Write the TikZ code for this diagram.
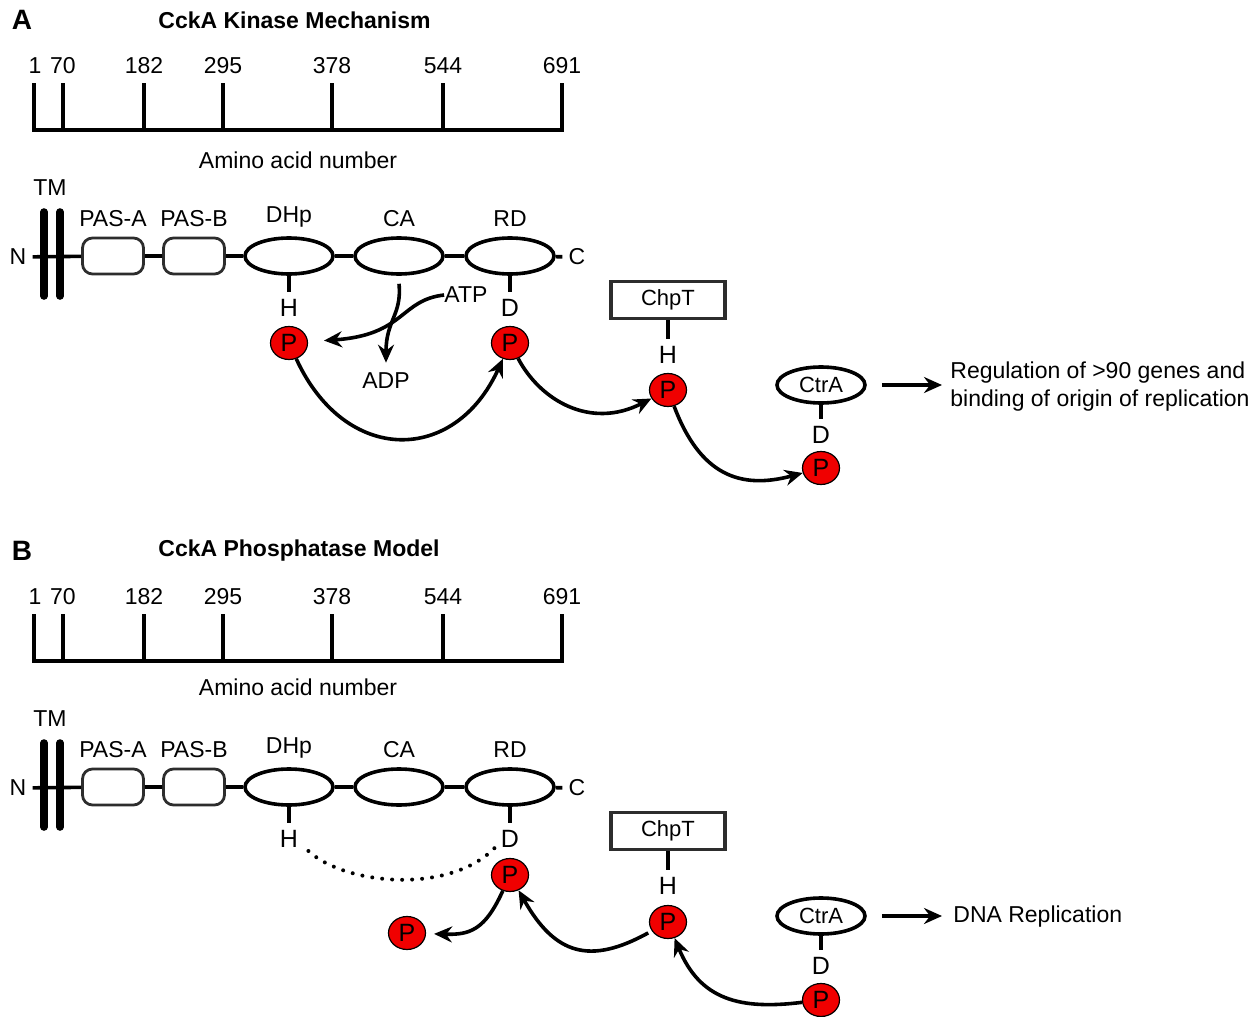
\documentclass[tikz,border=0pt]{standalone}
\usepackage{fontspec}
\setmainfont{Liberation Sans}
\usetikzlibrary{arrows.meta,shapes.geometric}
\definecolor{pred}{RGB}{240,0,0}
\definecolor{dgray}{RGB}{45,45,45}
\newcommand\txtf{\fontsize{11.5}{14}\selectfont}
\newcommand\resf{\fontsize{12.5}{14}\selectfont}
\newcommand\protf{\fontsize{11}{13}\selectfont}
\tikzset{
 lbl/.style={inner sep=0pt, font=\txtf},
 ttl/.style={inner sep=0pt, font=\txtf\bfseries},
 res/.style={inner xsep=0pt, inner ysep=3.5pt, font=\resf},
 term/.style={inner sep=3pt, font=\txtf},
 dom/.style={ellipse, draw, line width=1.8pt, fill=white, minimum width=44pt, minimum height=18pt, inner sep=0pt},
 pas/.style={rectangle, rounded corners=5pt, draw=dgray, line width=1.4pt, fill=white, minimum width=30.5pt, minimum height=18pt, inner sep=0pt},
 phos/.style={ellipse, draw, line width=0.6pt, fill=pred, minimum width=18.5pt, minimum height=16.5pt, inner sep=0pt, font=\resf},
 prot/.style={rectangle, draw=dgray, line width=1.7pt, minimum width=57pt, minimum height=18.5pt, inner sep=0pt, font=\protf},
 ctra/.style={ellipse, draw, line width=1.8pt, minimum width=44pt, minimum height=18pt, inner sep=0pt, font=\protf},
 bond/.style={line width=1.8pt},
 arr/.style={line width=1.8pt, -{Stealth[length=9pt, width=8pt, inset=3pt]}},
 tmbar/.style={line width=3.8pt, line cap=round},
 dotline/.style={line width=2pt, dash pattern=on 0pt off 5pt, line cap=round}
}
% common part of a panel
\newcommand\ckpanel[3]{%
 \node[inner sep=0pt, font=\fontsize{14}{16}\selectfont\bfseries] (letter) at (22,20) {#1};
 \node[ttl, anchor=west] (title) at (158,20) {#2};
 % ruler
 \draw[bond] (34,83) -- (34,130) -- (562,130) -- (562,83);
 \foreach \x in {63,144,223,332,443} \draw[bond] (\x,83) -- (\x,130);
 \foreach \v/\x in {1/35,70/63,182/144,295/223,378/332,544/443,691/562}
   \node[lbl] (t\v) at (\x,66) {\v};
 \node[lbl] (aan) at (298,#3) {Amino acid number};
 % domain architecture
 \node[lbl] (tm) at (50,188) {TM};
 \node[term] (N) at (18,257) {N};
 \node[term] (C) at (577,257) {C};
 \node[pas] (pasA) at (113,256) {};
 \node[pas] (pasB) at (194,256) {};
 \node[dom] (dhp) at (289,256) {};
 \node[dom] (ca) at (399,256) {};
 \node[dom] (rd) at (510,256) {};
 \node[lbl] (pasAl) at (113,219) {PAS-A};
 \node[lbl] (pasBl) at (194,219) {PAS-B};
 \node[lbl] (dhpl) at (289,217) {DHp};
 \node[lbl] (cal) at (399,219) {CA};
 \node[lbl] (rdl) at (510,219) {RD};
 \draw[bond] (N) -- (pasA) -- (pasB) -- (dhp) -- (ca) -- (rd) -- (C);
 \draw[tmbar] (44,212) -- (44,296);
 \draw[tmbar] (60,212) -- (60,296);
 \node[res] (hl) at (289,308) {H};
 \node[res] (dl) at (510,308) {D};
 \draw[bond] (dhp.south) -- (hl);
 \draw[bond] (rd.south) -- (dl);
 % ChpT
 \node[prot] (chpt) at (668,300) {ChpT};
 \node[res] (chh) at (668,355) {H};
 \draw[bond] (chpt.south) -- (chh);
 % CtrA
 \node[ctra] (ctra) at (821,385) {CtrA};
 \node[res] (ctd) at (821,435) {D};
 \draw[bond] (ctra.south) -- (ctd);
}
\begin{document}
\begin{tikzpicture}[x=0.5pt, y=-0.5pt]
\useasboundingbox (0,0) rectangle (1260,1017);
% ---------------- Panel A ----------------
\begin{scope}[name prefix=a-]
 \ckpanel{A}{CckA Kinase Mechanism}{160}
 \node[phos] (hP) at (289,343) {P};
 \node[phos] (dP) at (510,343) {P};
 \node[phos] (chP) at (668,390) {P};
 \node[phos] (ctP) at (821,468) {P};
 \node[lbl] (atp) at (466,295) {ATP};
 \node[lbl] (adp) at (386,381) {ADP};
 \draw[arr] ([shift={(0,8)}]ca.south) .. controls (402,315) and (386,320) .. ([shift={(0,-10)}]adp.north);
 \draw[arr, shorten >=8pt] (atp.west) .. controls (400,300) and (405,335) .. (hP);
 \draw[arr] (hP) .. controls (345,465) and (455,465) .. (dP);
 \draw[arr] (dP) .. controls (540,400) and (590,430) .. (chP);
 \draw[arr] (chP) .. controls (700,475) and (740,490) .. (ctP);
 \node[lbl, anchor=west, align=left] (reg) at (950,387) {Regulation of >90 genes and\\binding of origin of replication};
 \draw[arr] ([xshift=7.5pt]ctra.east) -- ([xshift=-4pt]ctra.east -| reg.west);
\end{scope}
% ---------------- Panel B ----------------
\begin{scope}[name prefix=b-, shift={(0,531)}]
 \ckpanel{B}{CckA Phosphatase Model}{156}
 \node[phos] (dP) at (510,344) {P};
 \node[phos] (lP) at (407,402) {P};
 \node[phos] (chP) at (668,391) {P};
 \node[phos] (ctP) at (821,469) {P};
 \draw[dotline] ([shift={(10,-4)}]hl.south east) .. controls (345,354) and (450,364) .. ([shift={(-5,-8)}]dl.south west);
 \draw[arr, shorten >=4pt] (dP) .. controls (485,399) and (470,404) .. (lP);
 \draw[arr, shorten <=2pt] (chP) .. controls (590,434) and (555,424) .. (dP);
 \draw[arr] (ctP) .. controls (740,479) and (700,469) .. (chP);
 \node[lbl, anchor=west] (dna) at (953,386) {DNA Replication};
 \draw[arr] ([xshift=7.5pt]ctra.east) -- ([xshift=-5.5pt]ctra.east -| dna.west);
\end{scope}
\end{tikzpicture}
\end{document}
